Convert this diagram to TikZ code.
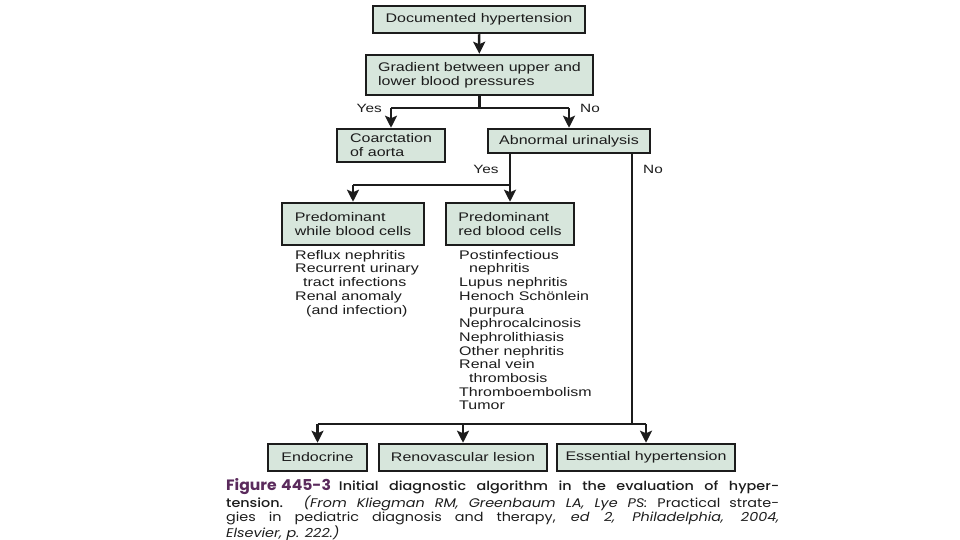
\documentclass[tikz,border=0pt]{standalone}
\usepackage{fontspec}
\setmainfont[FakeStretch=1.28]{Liberation Sans}
\newfontfamily\capfont[FakeStretch=1.15]{Poppins}
\newfontfamily\figfont[FakeStretch=1.04]{Poppins}
\newfontfamily\capmed[FakeStretch=1.15]{Poppins Medium}
\usetikzlibrary{arrows.meta,calc}
\definecolor{boxfill}{HTML}{D7E6DC}
\definecolor{ink}{HTML}{1C1C1C}
\definecolor{figpurple}{HTML}{5A2A5C}
\tikzset{
  box/.style={draw=ink, line width=2.5pt, fill=boxfill, rectangle, text=ink,
    font=\fontsize{12.5}{14}\selectfont, inner sep=0pt, align=left},
  conn/.style={draw=ink, line width=2.5pt},
  arr/.style={conn, -{Stealth[length=12pt,width=12pt,inset=2.5pt]}},
  lbl/.style={text=ink, font=\fontsize{12}{14}\selectfont, inner sep=0pt},
  lst/.style={text=ink, font=\fontsize{12.5}{13.7}\selectfont, inner sep=0pt, align=left, anchor=north west}
}
\newcommand{\capline}[1]{\makebox[553pt][s]{#1}}
\begin{document}
\begin{tikzpicture}[x=1pt,y=-1pt]
\useasboundingbox (0,0) rectangle (960,540);
% boxes
\node[box, minimum width=212pt, minimum height=27pt] (doc) at (479,19.5) {Documented hypertension};
\node[box, minimum width=227pt, minimum height=40pt] (grad) at (479.5,75) {Gradient between upper and\\lower blood pressures};
\node[box, minimum width=108pt, minimum height=33pt] (coarc) at (391,145.5) {Coarctation\\of aorta};
\node[box, minimum width=162pt, minimum height=24pt] (abn) at (569,141) {Abnormal urinalysis};
\node[box, minimum width=142pt, minimum height=42pt] (wbc) at (353,224) {Predominant\\while blood cells};
\node[box, minimum width=128pt, minimum height=42pt] (rbc) at (510,224) {Predominant\\red blood cells};
\node[box, minimum width=99pt, minimum height=27pt] (endo) at (317.5,457.5) {Endocrine};
\node[box, minimum width=168pt, minimum height=27pt] (reno) at (463,457.5) {Renovascular lesion};
\node[box, minimum width=178pt, minimum height=27pt] (ess) at (646,457.5) {Essential hypertension};
% lists
\node[lst] (wbclist) at (295,250) {Reflux nephritis\\Recurrent urinary\\\hspace*{8pt}tract infections\\Renal anomaly\\\hspace*{11pt}(and infection)};
\node[lst] (rbclist) at (459,250) {Postinfectious\\\hspace*{10pt}nephritis\\Lupus nephritis\\Henoch Schönlein\\\hspace*{10pt}purpura\\Nephrocalcinosis\\Nephrolithiasis\\Other nephritis\\Renal vein\\\hspace*{10pt}thrombosis\\Thromboembolism\\Tumor};
% connectors
\draw[arr] (doc) -- (grad);
\coordinate (gsplit) at ($(grad.south)+(0,12)$);
\draw[conn] (grad.south) -- (gsplit);
\draw[conn] (gsplit -| coarc.north) -- (gsplit -| abn.north);
\draw[arr] (gsplit -| coarc.north) -- (coarc.north);
\draw[arr] (gsplit -| abn.north) -- (abn.north);
\node[lbl, anchor=east] (yes1) at ($(gsplit -| coarc.north)+(-9,0)$) {Yes};
\node[lbl, anchor=west] (no1) at ($(gsplit -| abn.north)+(11,0)$) {No};
\coordinate (asplit) at (510,185);
\draw[conn] (abn.south -| asplit) -- (asplit);
\draw[conn] (asplit) -- (asplit -| wbc.north);
\draw[arr] (asplit -| wbc.north) -- (wbc.north);
\draw[arr] (asplit) -- (rbc.north);
\node[lbl] (yes2) at (486,169) {Yes};
\coordinate (nx) at (632,424);
\draw[conn] (abn.south -| nx) -- (nx);
\node[lbl, anchor=west] (no2) at (643,169) {No};
\draw[conn] (nx -| endo.north) -- (nx -| ess.north);
\draw[arr] (nx -| endo.north) -- (endo.north);
\draw[arr] (nx -| reno.north) -- (reno.north);
\draw[arr] (nx -| ess.north) -- (ess.north);
% caption
\node[anchor=north west, inner sep=0pt, text=ink,
  font=\capfont\fontsize{12.5}{13.8}\selectfont] (cap) at (226,478.5) {\parbox[t]{553pt}{%
\capline{{\figfont\fontsize{15}{14}\selectfont\bfseries\color{figpurple}Figure\hspace{4.5pt}445-3}\hspace{8pt}\capmed Initial diagnostic algorithm in the evaluation of hyper-}\\
\capline{{\capmed tension.} \itshape (From Kliegman RM, Greenbaum LA, Lye PS: \upshape Practical strate-}\\
\capline{gies in pediatric diagnosis and therapy, \itshape ed 2, Philadelphia, 2004,}\\
{\itshape Elsevier, p. 222.)}}};
\end{tikzpicture}
\end{document}
